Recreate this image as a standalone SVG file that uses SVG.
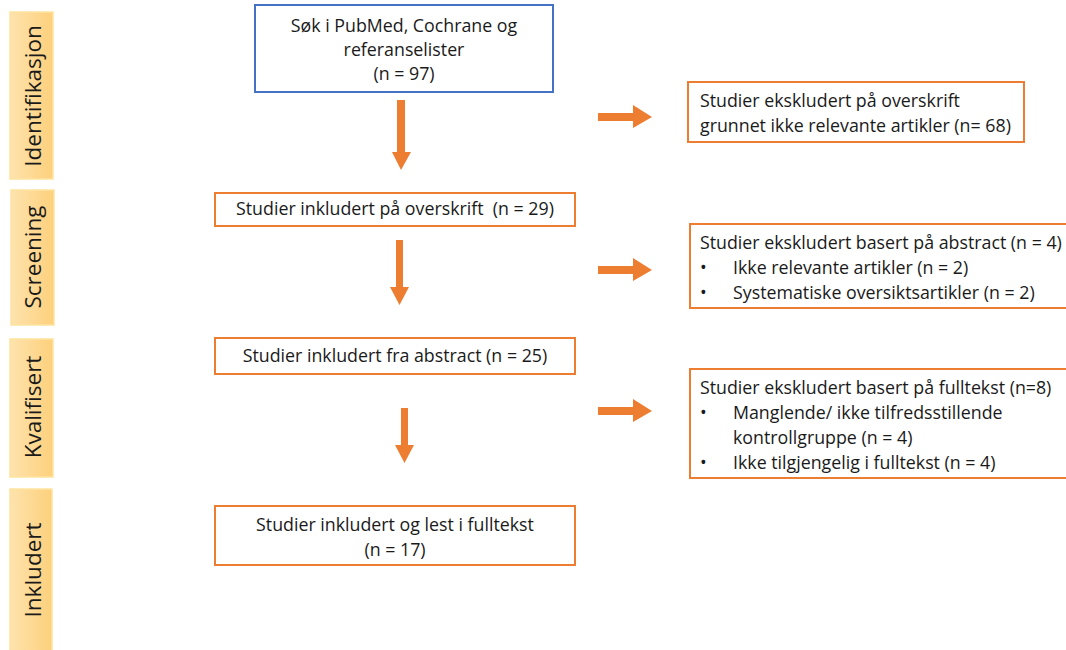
<svg xmlns="http://www.w3.org/2000/svg" width="1066" height="650" viewBox="0 0 1066 650">
<defs>
<linearGradient id="lbl" x1="0" y1="0" x2="1" y2="0">
<stop offset="0" stop-color="#fee3ad"/>
<stop offset="1" stop-color="#fdd07c"/>
</linearGradient>
<style>
text{font-family:"Open Sans","Liberation Sans",sans-serif;font-size:17.8px;fill:#1a1a1a}
.side rect{fill:url(#lbl);stroke:#fde3a0;stroke-width:1.5}
.side text{font-size:22.5px;text-anchor:middle;dominant-baseline:central}
.box{fill:#fff;stroke:#ed7d31;stroke-width:2}
.blue{fill:#fff;stroke:#4472c4;stroke-width:2}
.c{text-anchor:middle}
.arr{fill:#ed7d31}
</style>
</defs>
<rect width="1066" height="650" fill="#fff"/>
<g id="lbl-identifikasjon" class="side"><rect x="10" y="12" width="43" height="167"/><text transform="translate(32,96) rotate(-90)">Identifikasjon</text></g>
<g id="lbl-screening" class="side"><rect x="11" y="190" width="43" height="135"/><text transform="translate(32,257) rotate(-90)">Screening</text></g>
<g id="lbl-kvalifisert" class="side"><rect x="10" y="339" width="43" height="138"/><text transform="translate(32,407) rotate(-90)">Kvalifisert</text></g>
<g id="lbl-inkludert" class="side"><rect x="10" y="489" width="42" height="165"/><text transform="translate(32,570) rotate(-90)">Inkludert</text></g>

<g id="n-search"><rect class="blue" x="255" y="5" width="298" height="87"/>
<text class="c" x="404" y="32">Søk i PubMed, Cochrane og</text>
<text class="c" x="404" y="56">referanselister</text>
<text class="c" x="404" y="80">(n = 97)</text></g>
<g id="n-title"><rect class="box" x="215" y="193" width="360" height="33"/>
<text class="c" x="395" y="215" xml:space="preserve">Studier inkludert på overskrift  (n = 29)</text></g>
<g id="n-abstract"><rect class="box" x="215" y="338" width="360" height="36"/>
<text class="c" x="395" y="362">Studier inkludert fra abstract (n = 25)</text></g>
<g id="n-included"><rect class="box" x="215" y="506" width="360" height="59"/>
<text class="c" x="395" y="531">Studier inkludert og lest i fulltekst</text>
<text class="c" x="395" y="556">(n = 17)</text></g>

<g id="x-title"><rect class="box" x="688" y="82" width="336" height="60"/>
<text x="700" y="107">Studier ekskludert på overskrift</text>
<text x="700" y="132">grunnet ikke relevante artikler (n= 68)</text></g>
<g id="x-abstract"><rect class="box" x="690" y="224" width="380" height="84"/>
<text x="700" y="249">Studier ekskludert basert på abstract (n = 4)</text>
<text x="700" y="274">•</text><text x="733" y="274">Ikke relevante artikler (n = 2)</text>
<text x="700" y="299">•</text><text x="733" y="299">Systematiske oversiktsartikler (n = 2)</text></g>
<g id="x-fulltext"><rect class="box" x="690" y="369" width="380" height="109"/>
<text x="700" y="394">Studier ekskludert basert på fulltekst (n=8)</text>
<text x="700" y="419">•</text><text x="733" y="419">Manglende/ ikke tilfredsstillende</text>
<text x="733" y="444">kontrollgruppe (n = 4)</text>
<text x="700" y="469">•</text><text x="733" y="469">Ikke tilgjengelig i fulltekst (n = 4)</text></g>

<g id="connectors">
<path class="arr" d="M397,100 H405 V152 H411 L401,170 L392,152 H397 Z"/>
<path class="arr" d="M396,240 H403 V287 H409 L399.5,305 L390,287 H396 Z"/>
<path class="arr" d="M401,408 H408 V445 H414 L404.5,463 L395,445 H401 Z"/>
<path class="arr" d="M598,113 H633 V105 L652,117 L633,128 V121 H598 Z"/>
<path class="arr" d="M598,266 H633 V258 L652,270 L633,281 V274 H598 Z"/>
<path class="arr" d="M598,407 H633 V399 L652,411 L633,422 V415 H598 Z"/>
</g>
</svg>
